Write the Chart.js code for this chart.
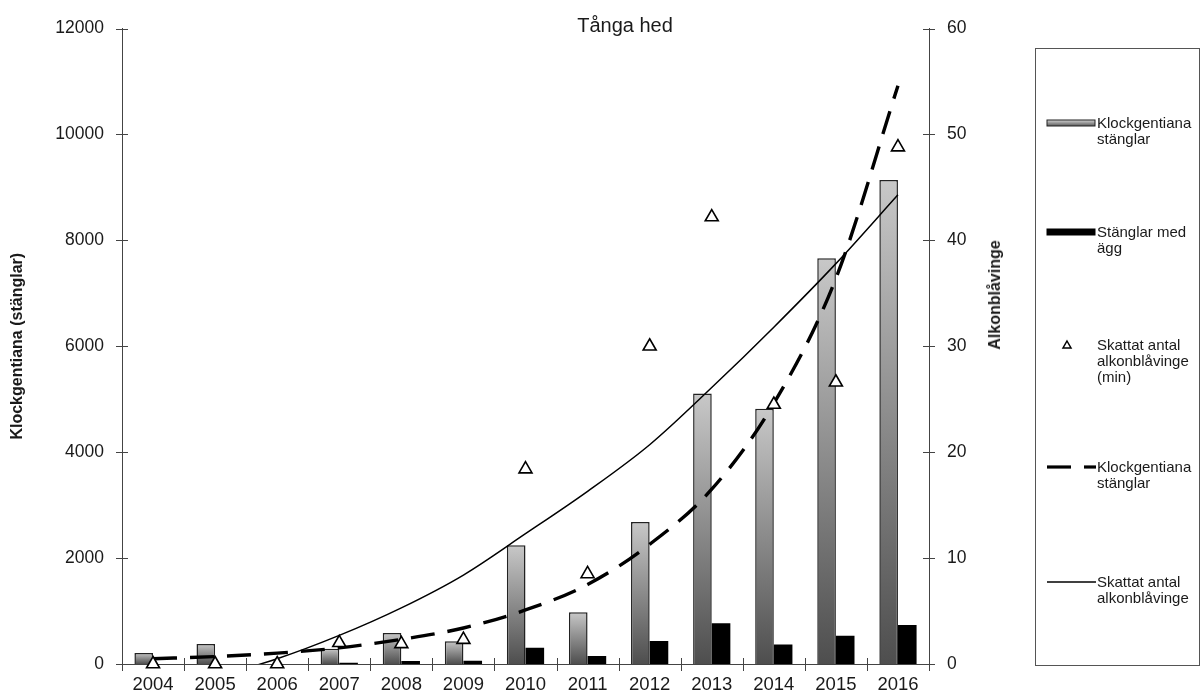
<!DOCTYPE html>
<html>
<head>
<meta charset="utf-8">
<script src="https://cdn.jsdelivr.net/npm/chart.js@4/dist/chart.umd.min.js"></script>
<style>
html,body{margin:0;padding:0;background:#fff;}
#wrap{position:relative;width:1201px;height:693px;font-family:"Liberation Sans",Arial,sans-serif;color:#1a1a1a;overflow:hidden;}
#c{position:absolute;left:0;top:0;}
#title{position:absolute;left:500px;top:13px;width:250px;text-align:center;font-size:20px;line-height:24px;}
#rtitle{position:absolute;left:995px;top:295px;transform:translate(-50%,-50%) rotate(-90deg);white-space:nowrap;font-weight:bold;font-size:16px;}
#legend{position:absolute;left:1035px;top:48px;width:165px;height:618px;border:1px solid #555;box-sizing:border-box;}
.item{position:absolute;left:0;width:164px;}
.sym{position:absolute;left:10px;width:50px;}
.txt{position:absolute;left:61px;font-size:15px;line-height:16px;white-space:nowrap;}
</style>
</head>
<body>
<div id="wrap">
  <canvas id="c" width="1201" height="693"></canvas>
  <div id="title">Tånga hed</div>
  <div id="rtitle">Alkonblåvinge</div>
  <div id="legend"></div>
</div>
<script>
// ---- data ----
const years = ['2004','2005','2006','2007','2008','2009','2010','2011','2012','2013','2014','2015','2016'];
const stems = [210, 380, 0, 290, 585, 430, 2240, 975, 2680, 5110, 4820, 7660, 9140];
const stemsWithEggs = [0, 0, 0, 25, 55, 60, 305, 150, 435, 770, 370, 535, 735];
const butterflies = [0, 0, 0, 2.0, 1.9, 2.3, 18.4, 8.5, 30.0, 42.2, 24.5, 26.6, 48.8];
const stemsTrend = [100, 140, 205, 305, 465, 680, 1020, 1500, 2260, 3300, 4920, 7280, 10920];
const butterflyTrend = [-2.5, -1.2, 0.5, 2.7, 5.3, 8.4, 12.3, 16.3, 20.7, 26.1, 31.8, 37.8, 44.3];
const leftTicks = [0, 2000, 4000, 6000, 8000, 10000, 12000];
const rightTicks = [0, 10, 20, 30, 40, 50, 60];

const legendItems = [
  {kind:'gbar', lines:['Klockgentiana','stänglar']},
  {kind:'kbar', lines:['Stänglar med','ägg']},
  {kind:'tri',  lines:['Skattat antal','alkonblåvinge','(min)']},
  {kind:'dash', lines:['Klockgentiana','stänglar']},
  {kind:'line', lines:['Skattat antal','alkonblåvinge']}
];
const legendRowY = [74, 183, 296, 418, 533];

// ---- legend (HTML) ----
const lg = document.getElementById('legend');
legendItems.forEach((it, i) => {
  const d = document.createElement('div');
  d.className = 'item';
  d.style.top = (legendRowY[i] - 8) + 'px';
  let svg = '';
  if (it.kind === 'gbar') {
    svg = '<svg width="50" height="16"><defs><linearGradient id="lgg" x1="0" y1="0" x2="0" y2="1"><stop offset="0" stop-color="#d2d2d2"/><stop offset="1" stop-color="#5a5a5a"/></linearGradient></defs><rect x="1" y="5" width="48" height="6" fill="url(#lgg)" stroke="#222" stroke-width="1"/></svg>';
  } else if (it.kind === 'kbar') {
    svg = '<svg width="50" height="16"><rect x="0.5" y="4.5" width="49" height="7" fill="#000"/></svg>';
  } else if (it.kind === 'tri') {
    svg = '<svg width="50" height="16"><polygon points="21,4 25,11 17,11" fill="#fff" stroke="#000" stroke-width="1.5"/></svg>';
  } else if (it.kind === 'dash') {
    svg = '<svg width="50" height="16"><line x1="1" y1="8" x2="25" y2="8" stroke="#000" stroke-width="3.2"/><line x1="38" y1="8" x2="50" y2="8" stroke="#000" stroke-width="3.2"/></svg>';
  } else {
    svg = '<svg width="50" height="16"><line x1="1" y1="8" x2="50" y2="8" stroke="#000" stroke-width="1.5"/></svg>';
  }
  d.innerHTML = '<div class="sym" style="top:0">' + svg + '</div><div class="txt" style="top:0">' + it.lines.join('<br>') + '</div>';
  lg.appendChild(d);
});

// ---- chart ----
Chart.defaults.font.family = "'Liberation Sans', Arial, sans-serif";
Chart.defaults.color = '#1a1a1a';

function barGradient(ctx) {
  const chart = ctx.chart;
  if (!chart.chartArea || ctx.type !== 'data' || !chart.scales.y) return '#9a9a9a';
  const ys = chart.scales.y;
  const top = ys.getPixelForValue(ctx.raw);
  const base = ys.getPixelForValue(0);
  if (!(base - top > 1)) return '#9a9a9a';
  const g = chart.ctx.createLinearGradient(0, top, 0, base);
  g.addColorStop(0, '#c8c8c8');
  g.addColorStop(1, '#4e4e4e');
  return g;
}

const crossTicks = {
  id: 'crossTicks',
  afterDraw(chart) {
    const {ctx, chartArea, scales} = chart;
    ctx.save();
    ctx.strokeStyle = '#444';
    ctx.lineWidth = 1;
    ctx.beginPath();
    scales.y.ticks.forEach(t => {
      const py = Math.round(scales.y.getPixelForValue(t.value)) + 0.5;
      ctx.moveTo(chartArea.left - 6, py); ctx.lineTo(chartArea.left + 6, py);
    });
    scales.y1.ticks.forEach(t => {
      const py = Math.round(scales.y1.getPixelForValue(t.value)) + 0.5;
      ctx.moveTo(chartArea.right - 6, py); ctx.lineTo(chartArea.right + 6, py);
    });
    const xs = scales.x;
    const half = (xs.getPixelForValue(1) - xs.getPixelForValue(0)) / 2;
    for (let i = 0; i <= years.length; i++) {
      const px = Math.round(xs.getPixelForValue(i) - half) + 0.5;
      ctx.moveTo(px, chartArea.bottom - 6); ctx.lineTo(px, chartArea.bottom + 7);
    }
    ctx.stroke();
    ctx.restore();
  }
};

new Chart(document.getElementById('c'), {
  data: {
    labels: years,
    datasets: [
      {
        type: 'line', label: 'Skattat antal alkonblåvinge (min)', data: butterflies, yAxisID: 'y1',
        showLine: false, pointStyle: 'triangle', pointRadius: 7.5, pointBorderWidth: 1.6,
        pointBackgroundColor: '#fff', pointBorderColor: '#000', clip: false, order: 0
      },
      {
        type: 'line', label: 'Klockgentiana stänglar (trend)', data: stemsTrend, yAxisID: 'y',
        borderColor: '#000', borderWidth: 3.4, borderDash: [24, 13], pointRadius: 0,
        cubicInterpolationMode: 'monotone', fill: false, order: 1
      },
      {
        type: 'line', label: 'Skattat antal alkonblåvinge (trend)', data: butterflyTrend, yAxisID: 'y1',
        borderColor: '#000', borderWidth: 1.5, pointRadius: 0,
        cubicInterpolationMode: 'monotone', fill: false, order: 2
      },
      {
        type: 'bar', label: 'Klockgentiana stänglar', data: stems, yAxisID: 'y',
        backgroundColor: barGradient, borderColor: '#222', borderWidth: 1.5,
        categoryPercentage: 0.6, barPercentage: 1.0, order: 3
      },
      {
        type: 'bar', label: 'Stänglar med ägg', data: stemsWithEggs, yAxisID: 'y',
        backgroundColor: '#000', borderColor: '#000', borderWidth: 0,
        categoryPercentage: 0.6, barPercentage: 1.0, order: 4
      }
    ]
  },
  options: {
    responsive: false,
    animation: false,
    layout: { padding: { left: 0, top: 23, right: 181, bottom: 0 } },
    plugins: { legend: { display: false }, tooltip: { enabled: false }, title: { display: false } },
    scales: {
      x: {
        type: 'category', offset: true,
        grid: { display: false, drawTicks: false },
        border: { display: true, color: '#444', width: 1 },
        ticks: { font: { size: 18.5 }, padding: 10, maxRotation: 0, autoSkip: false, color: '#1a1a1a' },
        afterFit(s) { s.height = 29; }
      },
      y: {
        position: 'left', min: 0, max: 12000,
        afterBuildTicks(s) { s.ticks = leftTicks.map(v => ({ value: v })); },
        grid: { display: false, drawTicks: false },
        border: { display: true, color: '#444', width: 1 },
        ticks: { font: { size: 17.5 }, padding: 18, color: '#1a1a1a', callback: v => String(v) },
        title: { display: true, text: 'Klockgentiana (stänglar)', font: { size: 16, weight: 'bold' }, padding: { top: 8, bottom: 0 }, color: '#1a1a1a' },
        afterFit(s) { s.width = 122; }
      },
      y1: {
        position: 'right', min: 0, max: 60,
        afterBuildTicks(s) { s.ticks = rightTicks.map(v => ({ value: v })); },
        grid: { display: false, drawTicks: false },
        border: { display: true, color: '#444', width: 1 },
        ticks: { font: { size: 17.5 }, padding: 18, color: '#1a1a1a', callback: v => String(v) },
        afterFit(s) { s.width = 91; }
      }
    }
  },
  plugins: [crossTicks]
});
</script>
</body>
</html>
